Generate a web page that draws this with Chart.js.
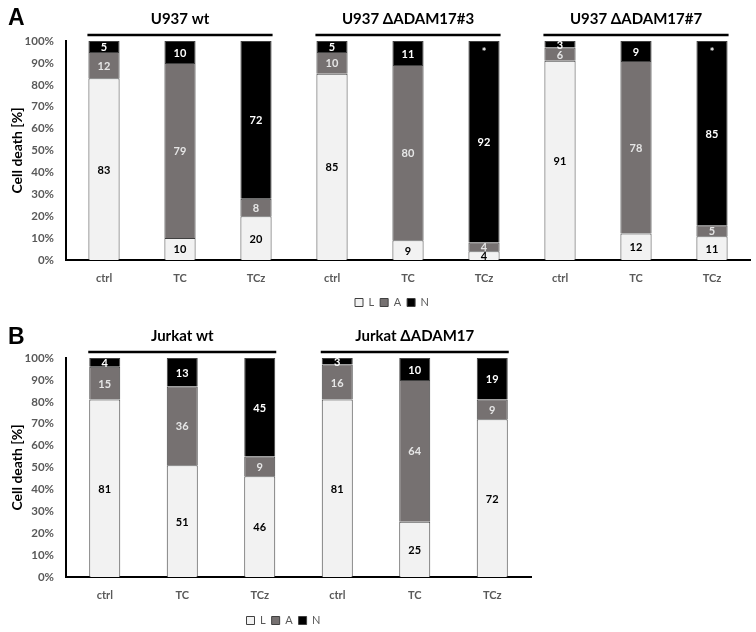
<!DOCTYPE html>
<html>
<head>
<meta charset="utf-8">
<script src="https://cdn.jsdelivr.net/npm/chart.js@4.4.1/dist/chart.umd.min.js"></script>
<style>
  body { margin: 0; background: #fff; overflow: hidden; }
  canvas { position: absolute; left: 0; }
  #panelA { top: 0; }
  #panelB { top: 318px; }
</style>
</head>
<body>
<canvas id="panelA" width="756" height="318"></canvas>
<canvas id="panelB" width="756" height="318"></canvas>
<script>
// panel A - U937 cells
const catsA = ['ctrl', 'TC', 'TCz', 'ctrl', 'TC', 'TCz', 'ctrl', 'TC', 'TCz'];
const groupsA = ['U937 wt', 'U937 \u0394ADAM17#3', 'U937 \u0394ADAM17#7'];
const liveA = [83, 10, 20, 85, 9, 4, 91, 12, 11];
const apoA = [12, 79, 8, 10, 80, 4, 6, 78, 5];
const necA = [5, 10, 72, 5, 11, 92, 3, 9, 85];
const starA = [false, false, false, false, false, true, false, false, true];

// panel B - Jurkat cells
const catsB = ['ctrl', 'TC', 'TCz', 'ctrl', 'TC', 'TCz'];
const groupsB = ['Jurkat wt', 'Jurkat \u0394ADAM17'];
const liveB = [81, 51, 46, 81, 25, 72];
const apoB = [15, 36, 9, 16, 64, 9];
const necB = [4, 13, 45, 3, 10, 19];
const starB = [false, false, false, false, false, false];

const seriesNames = ['L', 'A', 'N'];
const FONT = 'Lato, "Open Sans", sans-serif';

// 100% stacked: each bar is scaled to its own total
function toPercent(series, all) {
    return series.map((v, i) => v * 100 / (all[0][i] + all[1][i] + all[2][i]));
}

// draws segment values, stars, group headers and the panel letter
const decorPlugin = {
    id: 'decor',
    afterLayout(chart) {
        // excel puts the legend a bit right of centre
        const shift = chart.options.plugins.decor.legendShift;
        chart.legend.left += shift;
        chart.legend.right += shift;
    },
    afterDatasetsDraw(chart) {
        const ctx = chart.ctx;
        const o = chart.options.plugins.decor;
        const area = chart.chartArea;

        chart.data.datasets.forEach((ds, di) => {
            const meta = chart.getDatasetMeta(di);
            meta.data.forEach((bar, i) => {
                ctx.save();
                ctx.font = 'bold 11px ' + FONT;
                ctx.fillStyle = ds.labelColor;
                ctx.textAlign = 'center';
                ctx.textBaseline = 'middle';
                ctx.fillText(String(ds.raw[i]), bar.x, (bar.y + bar.base) / 2 + 1);
                ctx.restore();
            });
        });

        // stars on top of N segments
        const topMeta = chart.getDatasetMeta(2);
        o.stars.forEach((s, i) => {
            if (!s) return;
            const bar = topMeta.data[i];
            ctx.save();
            ctx.font = 'bold 11px ' + FONT;
            ctx.fillStyle = '#fff';
            ctx.textAlign = 'center';
            ctx.textBaseline = 'middle';
            ctx.fillText('*', bar.x, bar.y + 11);
            ctx.restore();
        });

        // group headers
        const baseMeta = chart.getDatasetMeta(0);
        o.groups.forEach((name, g) => {
            const first = baseMeta.data[g * 3];
            const last = baseMeta.data[g * 3 + 2];
            const x1 = first.x - first.width / 2 - 1;
            const x2 = last.x + last.width / 2 + 1;
            ctx.save();
            ctx.strokeStyle = '#000';
            ctx.lineWidth = 2.5;
            ctx.beginPath();
            ctx.moveTo(x1, area.top - 6);
            ctx.lineTo(x2, area.top - 6);
            ctx.stroke();
            ctx.font = 'bold 15px ' + FONT;
            ctx.fillStyle = '#000';
            ctx.textAlign = 'center';
            ctx.textBaseline = 'middle';
            ctx.fillText(name, (x1 + x2) / 2, area.top - 22);
            ctx.restore();
        });

        ctx.save();
        ctx.font = 'bold 23px Arial, sans-serif';
        ctx.fillStyle = '#000';
        ctx.textBaseline = 'middle';
        ctx.fillText(o.letter, 8, o.letterY);
        ctx.restore();
    }
};

function makePanel(id, cats, groups, live, apo, nec, stars, opts) {
    const all = [live, apo, nec];
    const fills = ['#f2f2f2', '#767171', '#000000'];
    const labelColors = ['#000', '#e6e6e6', '#fff'];
    const datasets = all.map((s, k) => ({
        label: seriesNames[k],
        data: toPercent(s, all),
        raw: s,
        labelColor: labelColors[k],
        backgroundColor: fills[k],
        borderColor: '#404040',
        borderWidth: 1,
        barPercentage: opts.barPct,
        categoryPercentage: 1
    }));

    return new Chart(document.getElementById(id), {
        type: 'bar',
        data: { labels: cats, datasets: datasets },
        plugins: [decorPlugin],
        options: {
            responsive: false,
            animation: false,
            layout: { padding: { left: 0, right: opts.padRight, top: opts.padTop, bottom: 0 } },
            scales: {
                x: {
                    stacked: true,
                    grid: { display: false },
                    border: { display: true, color: '#000', width: 2 },
                    ticks: { color: '#595959', font: { family: FONT, size: 11, weight: 'bold' }, padding: 4 },
                    afterFit: s => { s.height = opts.xHeight; }
                },
                y: {
                    stacked: true,
                    min: 0,
                    max: 100,
                    grid: { display: false, drawTicks: false },
                    border: { display: true, color: '#000', width: 2 },
                    ticks: {
                        stepSize: 10,
                        padding: 12,
                        color: '#595959',
                        font: { family: FONT, size: 11.5, weight: 'bold' },
                        callback: v => v + '%'
                    },
                    title: {
                        display: true,
                        text: 'Cell death [%]',
                        color: '#000',
                        font: { family: FONT, size: 14, weight: 'bold' },
                        padding: { top: 9, bottom: 0 }
                    },
                    afterFit: s => { s.width = 66; }
                }
            },
            plugins: {
                tooltip: { enabled: false },
                legend: {
                    position: 'bottom',
                    labels: {
                        boxWidth: 8,
                        boxHeight: 8,
                        padding: 6,
                        color: '#595959',
                        font: { family: FONT, size: 11 }
                    }
                },
                decor: { groups: groups, stars: stars, letter: opts.letter, letterY: opts.letterY, legendShift: opts.legendShift }
            }
        }
    });
}

makePanel('panelA', catsA, groupsA, liveA, apoA, necA, starA,
    { barPct: 0.41, padRight: 6, padTop: 41, xHeight: 31, letter: 'A', letterY: 19, legendShift: 17 });
makePanel('panelB', catsB, groupsB, liveB, apoB, necB, starB,
    { barPct: 0.40, padRight: 225, padTop: 40, xHeight: 32, letter: 'B', letterY: 20, legendShift: 18 });
</script>
</body>
</html>
